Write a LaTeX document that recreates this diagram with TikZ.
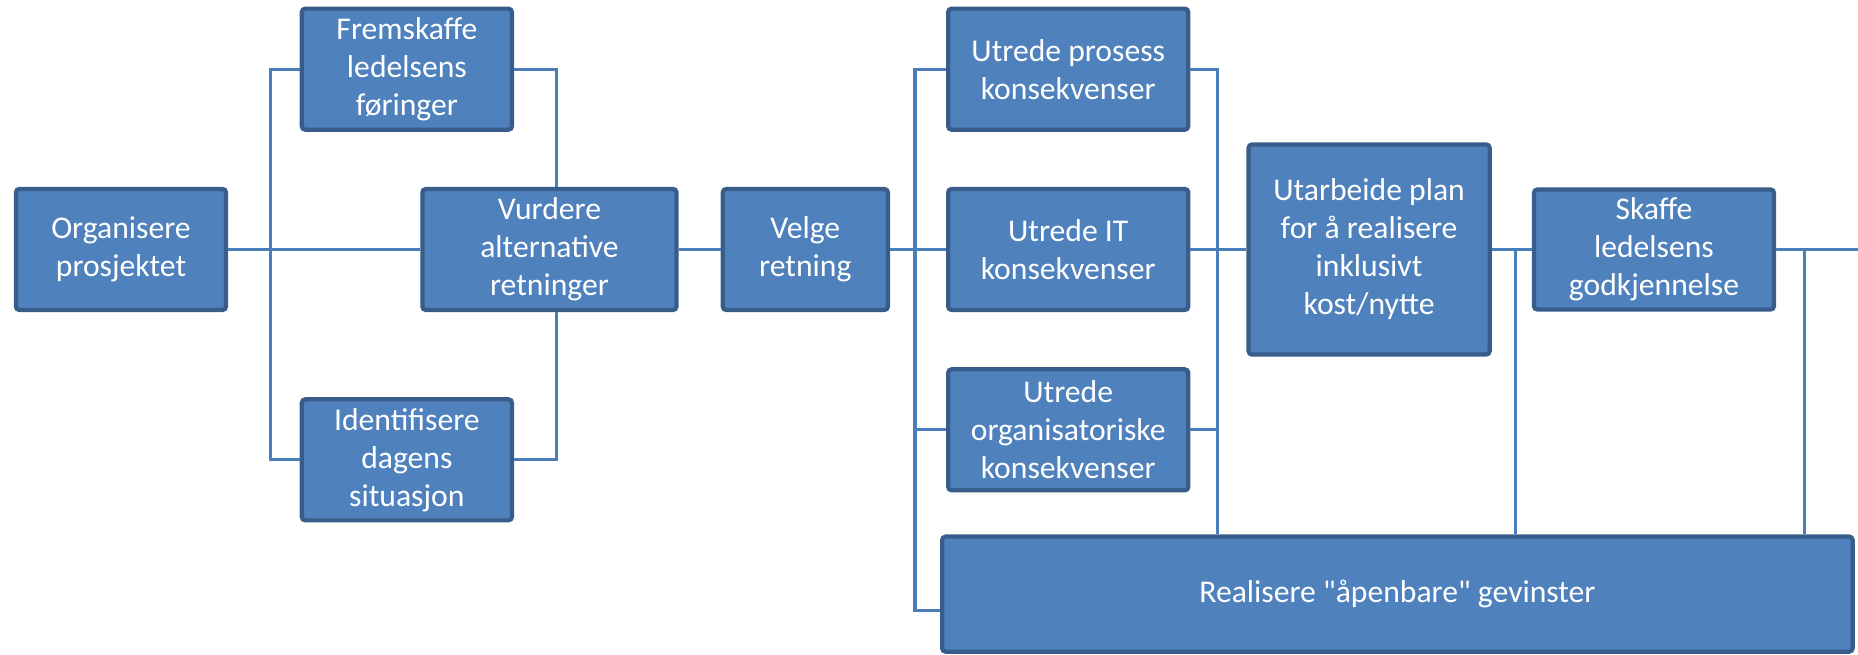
\documentclass[tikz,border=0pt]{standalone}
\usepackage{fontspec}
\setmainfont{Carlito}
\newfontfamily\boxfont{Carlito}
\usetikzlibrary{positioning}
\definecolor{boxFill}{HTML}{4F81BD}
\definecolor{boxEdge}{HTML}{385D8A}
\definecolor{linkBlue}{HTML}{4A7EBB}
\tikzset{%
  % Specifications for style of nodes:
     base/.style = {rectangle, rounded corners=1pt, draw=boxEdge,
                           line width=1.2pt, fill=boxFill, text=white,
                           align=center, inner sep=1pt,
                           font=\boxfont\fontsize{9pt}{10.8pt}\selectfont},
    stepBox/.style = {base, minimum width=2.10cm, minimum height=1.21cm},
    choiceBox/.style = {base, minimum width=2.54cm, minimum height=1.21cm},
    studyBox/.style = {base, minimum width=2.40cm, minimum height=1.21cm},
    planBox/.style = {base, minimum width=2.41cm, minimum height=2.10cm},
    gainBox/.style = {base, minimum width=9.10cm, minimum height=1.15cm},
    link/.style = {draw=linkBlue, line width=0.9pt},
}

\begin{document}
\begin{tikzpicture}[x=0.01cm, y=-0.01cm]
  \useasboundingbox (0,0) rectangle (1858,655);
  % Specification of nodes (position, etc.)
  \node (org)      [stepBox] at (121,249.5)
                   {Organisere\\prosjektet};
  \node (vurd)     [choiceBox, right=1.92cm of org]
                   {Vurdere\\alternative\\retninger};
  \node (frem)     [stepBox, above=0.55cm of vurd, xshift=-1.425cm]
                   {Fremskaffe\\ledelsens\\føringer};
  \node (ident)    [stepBox, below=0.85cm of vurd, xshift=-1.425cm]
                   {Identifisere\\dagens\\situasjon};
  \node (velge)    [stepBox, minimum width=1.65cm, right=0.42cm of vurd]
                   {Velge\\retning};
  \node (it)       [studyBox, right=0.56cm of velge]
                   {Utrede IT\\konsekvenser};
  \node (prosess)  [studyBox, above=0.55cm of it]
                   {Utrede prosess\\konsekvenser};
  \node (orgk)     [studyBox, below=0.55cm of it]
                   {Utrede\\organisatoriske\\konsekvenser};
  \node (plan)     [planBox, right=0.56cm of it]
                   {Utarbeide plan\\for å realisere\\inklusivt\\kost/nytte};
  \node (skaffe)   [studyBox, minimum height=1.20cm, right=0.40cm of plan]
                   {Skaffe\\ledelsens\\godkjennelse};
  \node (real)     [gainBox, below=0.42cm of orgk, xshift=3.29cm]
                   {Realisere "åpenbare" gevinster};

  % Specification of lines between nodes specified above
  \draw[link]      (org) -- (vurd);
  \draw[link]      (frem.west) -- ++(-29,0) |- (ident.west);
  \draw[link]      (frem.east) -| ([xshift=0.07cm]vurd.north);
  \draw[link]      ([xshift=0.07cm]vurd.south) |- (ident.east);
  \draw[link]      (vurd) -- (velge);
  \draw[link]      (velge) -- (it);

  \draw[link]      (prosess.west) -- ++(-31,0) |- ([yshift=-0.165cm]real.west);
  \draw[link]      (orgk.west) -- ++(-31,0);
  \draw[link]      (prosess.east) -- ++(27,0) coordinate (busRight)
                   -- (busRight |- real.north);
  \draw[link]      (orgk.east) -- ++(27,0);
  \draw[link]      (it) -- (plan);

  \draw[link]      (plan) -- (skaffe);
  \coordinate (tapPlan) at ([xshift=0.24cm]plan.east);
  \draw[link]      (tapPlan) -- (tapPlan |- real.north);
  \draw[link]      (skaffe.east) -- ++(84,0);
  \coordinate (tapSkaffe) at ([xshift=0.28cm]skaffe.east);
  \draw[link]      (tapSkaffe) -- (tapSkaffe |- real.north);
\end{tikzpicture}
\end{document}
